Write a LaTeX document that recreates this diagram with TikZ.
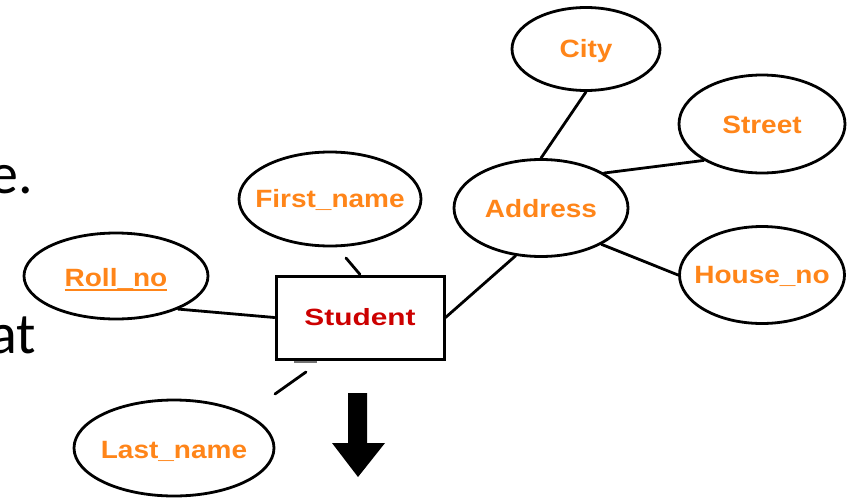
\documentclass[tikz,border=0pt]{standalone}
\usepackage{graphicx}
\usepackage{fontspec}
\setmainfont{Liberation Sans}
\newfontfamily\slidefont{Carlito}
\usetikzlibrary{shapes.geometric}

\definecolor{attrorange}{RGB}{255,133,25}
\definecolor{entityred}{RGB}{204,0,0}

% label set on the node centre without widening the shape
\newcommand\erlabel[2]{\makebox[0pt]{\smash{\raisebox{#1}{\scalebox{1.12}[1]{\fontsize{25}{30}\selectfont\bfseries #2}}}}}
% underlined key attribute
\newcommand\keyattr[1]{\setbox0\hbox{#1}\rlap{\rule[-5pt]{\wd0}{2pt}}\box0}

\begin{document}
\begin{tikzpicture}[x=1pt,y=-1pt,
  attr/.style={ellipse, draw, line width=2.8pt, inner sep=0pt, fill=white, text=attrorange},
  entity/.style={rectangle, draw, line width=3pt, inner sep=0pt, fill=white,
                 minimum width=168pt, minimum height=83pt, text=entityred},
  link/.style={line width=2.8pt, line cap=round},
  slidetext/.style={anchor=base east, inner sep=0pt, font=\slidefont\fontsize{58}{60}\selectfont}]

\useasboundingbox (0,0) rectangle (861,503);

% slide text cut off at the left edge
\node[slidetext] (slideA) at (33,193) {e.};
\node[slidetext] (slideB) at (36,353) {at};

% entity
\node[entity] (student) at (360,317.5) {\makebox[0pt]{\smash{\raisebox{-8.3pt}{\scalebox{1.27}[1]{\fontsize{23.5}{28}\selectfont\bfseries Student}}}}};

% attributes
\node[attr, minimum width=148pt, minimum height=83pt] (city)     at (586,49)  {\erlabel{-9pt}{City}};
\node[attr, minimum width=166pt, minimum height=98pt] (street)   at (762,124) {\erlabel{-9pt}{Street}};
\node[attr, minimum width=174pt, minimum height=97pt] (address)  at (541,208) {\erlabel{-9pt}{Address}};
\node[attr, minimum width=165pt, minimum height=97pt] (houseno)  at (762,275) {\erlabel{-8.5pt}{House\_no}};
\node[attr, minimum width=182pt, minimum height=94pt] (firstname) at (330,199) {\erlabel{-8pt}{First\_name}};
\node[attr, minimum width=184pt, minimum height=86pt] (rollno)   at (116,276) {\erlabel{-10pt}{\keyattr{Roll\_no}}};
\node[attr, minimum width=200pt, minimum height=96pt] (lastname) at (174,448) {\erlabel{-10pt}{Last\_name}};

% connectors
\draw[link] (rollno.-28) -- (student.west);
\coordinate (fnstub) at (346,258);
\draw[link] (fnstub) -- (student.north);
\coordinate (lnA) at (275,394);
\coordinate (lnB) at (306,372);
\draw[link] (lnA) -- (lnB);
\coordinate (stubA) at (294,362);
\coordinate (stubB) at (317,362);
\draw[line width=2.5pt, black!55] (stubA) -- (stubB);
\draw[link] (student.east) -- (address.242);
\draw[link] (address.north) -- (city.south);
\draw[link] (address.29) -- (street.212);
\draw[link] (address.329) -- (houseno.west);

% heavy down arrow
\fill[black] (348,393) -- (367,393) -- (367,443) -- (385,443) -- (358,477)
  -- (332,443) -- (348,443) -- cycle;
\end{tikzpicture}
\end{document}
